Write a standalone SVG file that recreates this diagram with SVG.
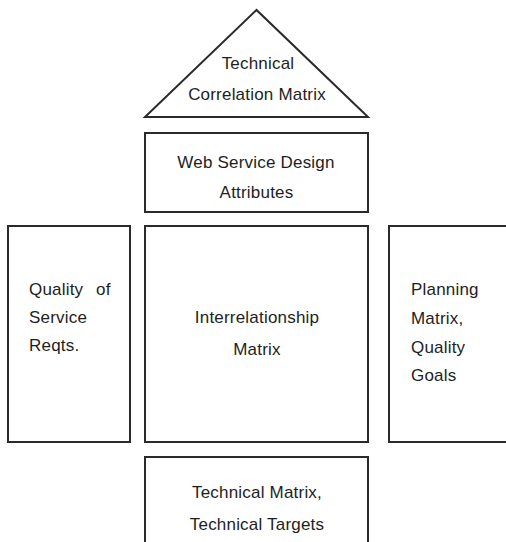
<svg xmlns="http://www.w3.org/2000/svg" width="506" height="542" viewBox="0 0 506 542">
<style>
.shape{fill:#fff;stroke:#2a2a2a;stroke-width:2}
text{font-family:"Liberation Sans",Arial,sans-serif;font-size:17px;fill:#1e1e1e;letter-spacing:0.2px}
.c{text-anchor:middle}
</style>
<rect width="506" height="542" fill="#fff"/>
<g id="correlation">
<polygon class="shape" points="256.5,10 145,117 368,117"/>
<text class="c" x="258" y="69">Technical</text>
<text class="c" x="257" y="100">Correlation Matrix</text>
</g>
<g id="attributes">
<rect class="shape" x="145" y="133" width="223" height="79"/>
<text class="c" x="256" y="168">Web Service Design</text>
<text class="c" x="256.5" y="198">Attributes</text>
</g>
<g id="requirements">
<rect class="shape" x="8" y="226" width="122" height="216"/>
<text x="29" y="295">Quality<tspan x="96">of</tspan></text>
<text x="29" y="323">Service</text>
<text x="29" y="351">Reqts.</text>
</g>
<g id="interrelationship">
<rect class="shape" x="145" y="226" width="223" height="216"/>
<text class="c" x="257" y="323">Interrelationship</text>
<text class="c" x="257" y="355">Matrix</text>
</g>
<g id="planning">
<rect class="shape" x="389" y="226" width="125" height="216"/>
<text x="411" y="295">Planning</text>
<text x="411" y="324">Matrix,</text>
<text x="411" y="353">Quality</text>
<text x="411" y="381">Goals</text>
</g>
<g id="targets">
<rect class="shape" x="145" y="457" width="223" height="95"/>
<text class="c" x="257" y="498">Technical Matrix,</text>
<text class="c" x="257" y="530">Technical Targets</text>
</g>
<g id="connectors"></g>
</svg>
